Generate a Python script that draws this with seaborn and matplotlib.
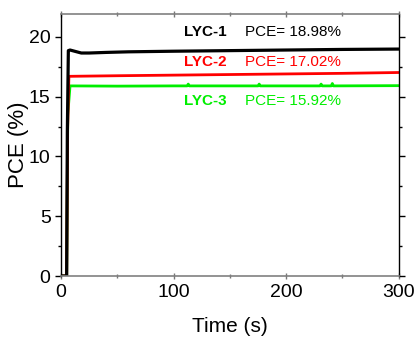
import matplotlib
matplotlib.use("Agg")
import matplotlib.pyplot as plt
import seaborn as sns
import pandas as pd
from matplotlib.ticker import MultipleLocator

sns.set_theme(style="white")
plt.rcParams['font.family'] = ['Liberation Sans', 'DejaVu Sans']
plt.rcParams['text.color'] = 'black'
plt.rcParams['axes.labelcolor'] = 'black'
plt.rcParams['xtick.color'] = 'black'
plt.rcParams['ytick.color'] = 'black'

# Data
t_lyc1 = [0, 5, 5.6, 6.5, 8, 12, 18, 25, 40, 60, 100, 150, 200, 250, 300]
v_lyc1 = [0, 0, 12.0, 18.85, 18.9, 18.8, 18.65, 18.65, 18.7, 18.75, 18.8, 18.85, 18.9, 18.95, 18.98]

t_lyc2 = [0, 5, 5.8, 7, 50, 100, 150, 200, 250, 300]
v_lyc2 = [0, 0, 12.0, 16.7, 16.75, 16.8, 16.85, 16.9, 16.95, 17.02]

t_lyc3 = [0, 5, 6.0, 8, 50, 100, 112, 113, 114, 175, 176, 177, 230, 231, 232,
          240, 241, 242, 300]
v_lyc3 = [0, 0, 13.5, 15.9, 15.88, 15.9, 15.9, 16.05, 15.9, 15.9, 16.05, 15.9,
          15.9, 16.05, 15.9, 15.9, 16.1, 15.9, 15.92]

names = ["LYC-1", "LYC-2", "LYC-3"]
pce_labels = ["PCE= 18.98%", "PCE= 17.02%", "PCE= 15.92%"]
colors = ["#000000", "#ff0000", "#00ee00"]
label_y = [20.4, 17.9, 14.6]

df = pd.concat([
    pd.DataFrame({"Time": t_lyc1, "PCE": v_lyc1, "Device": names[0]}),
    pd.DataFrame({"Time": t_lyc2, "PCE": v_lyc2, "Device": names[1]}),
    pd.DataFrame({"Time": t_lyc3, "PCE": v_lyc3, "Device": names[2]}),
])

fig = plt.figure(figsize=(4.18, 3.37), dpi=100)
ax = fig.add_axes([0.146, 0.181, 0.808, 0.777])

# draw in reverse so black is on top
for name, col in zip(reversed(names), reversed(colors)):
    sub = df[df["Device"] == name]
    sns.lineplot(data=sub, x="Time", y="PCE", color=col, lw=2.0 if name != "LYC-1" else 2.3,
                 estimator=None, sort=False, ax=ax, legend=False)

for name, pl, col, y in zip(names, pce_labels, colors, label_y):
    ax.text(109, y, name, color=col, fontsize=11, fontweight="bold", va="center", ha="left")
    ax.text(163, y, pl, color=col, fontsize=11, va="center", ha="left")

ax.set_xlim(0, 300)
ax.set_ylim(0, 21.9)
ax.xaxis.set_major_locator(MultipleLocator(100))
ax.xaxis.set_minor_locator(MultipleLocator(50))
ax.yaxis.set_major_locator(MultipleLocator(5))
ax.yaxis.set_minor_locator(MultipleLocator(2.5))

ax.set_xlabel("Time (s)", fontsize=15, labelpad=12)
ax.set_ylabel("PCE (%)", fontsize=16, labelpad=0)

ax.tick_params(axis="both", which="major", labelsize=14, direction="out", length=4,
               width=1, color="black", labelcolor="black", left=True, bottom=True)
ax.tick_params(axis="both", which="minor", direction="out", length=2.5, width=1,
               color="black", left=True, bottom=True)
ax.tick_params(axis="x", colors="#777777", labelcolor="black", which="both")
ax.tick_params(axis="x", which="both", top=True, direction="inout")
ax.tick_params(axis="y", which="both", right=True)

for s in ["left", "right"]:
    ax.spines[s].set_color("black")
    ax.spines[s].set_linewidth(1)
for s in ["top", "bottom"]:
    ax.spines[s].set_color("#808080")
    ax.spines[s].set_linewidth(1.2)

fig.savefig("out.png", dpi=100)
